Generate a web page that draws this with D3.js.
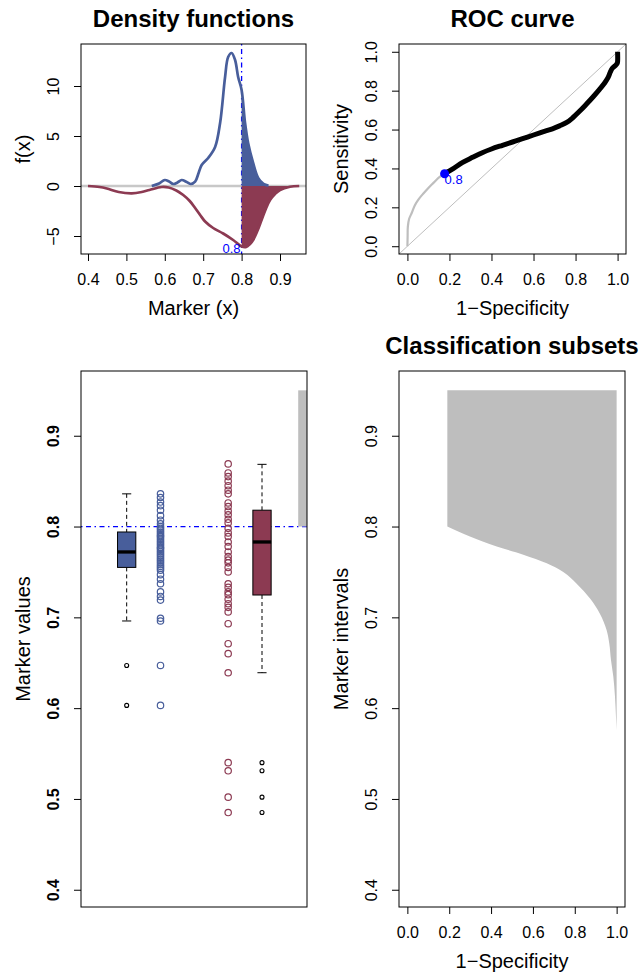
<!DOCTYPE html>
<html>
<head>
<meta charset="utf-8">
<script src="https://cdnjs.cloudflare.com/ajax/libs/d3/7.8.5/d3.min.js"></script>
<style>
  body { margin: 0; background: #fff; }
  svg { display: block; font-family: 'Liberation Sans', Arial, sans-serif; }
</style>
</head>
<body>
<svg width="640" height="976"></svg>
<script>
// ---- data ----
let cutoff = 0.8;

// density of the blue group (upper curve)
let densBlueX = [0.566, 0.585, 0.600, 0.611, 0.622, 0.633, 0.644, 0.657, 0.668, 0.679, 0.688, 0.696, 0.713, 0.731, 0.744, 0.757, 0.765, 0.774, 0.783, 0.791, 0.800, 0.809, 0.817, 0.830, 0.843, 0.857, 0.870];
let densBlueY = [0, 0.25, 0.6, 0.45, 0.2, 0.35, 0.6, 0.4, 0.2, 0.43, 1.3, 2.1, 2.8, 3.9, 6.3, 10.9, 12.9, 13.3, 12.6, 10.9, 9.6, 6.3, 4.3, 2.3, 0.8, 0.2, 0.03];
// density of the red group (drawn mirrored below zero)
let densRedX = [0.400, 0.430, 0.449, 0.480, 0.514, 0.540, 0.560, 0.592, 0.610, 0.630, 0.648, 0.665, 0.679, 0.692, 0.705, 0.726, 0.752, 0.778, 0.800, 0.812, 0.822, 0.830, 0.841, 0.852, 0.863, 0.874, 0.887, 0.900, 0.926, 0.950];
let densRedY = [0, -0.1, -0.25, -0.6, -0.73, -0.6, -0.4, -0.1, -0.15, -0.45, -0.9, -1.5, -2.2, -2.9, -3.55, -4.2, -4.75, -5.4, -6.05, -6.1, -5.8, -5.4, -4.5, -3.4, -2.3, -1.4, -0.8, -0.4, -0.08, 0];

// ROC curve
let rocFpr = [0, 0.001, 0.002, 0.008, 0.021, 0.035, 0.053, 0.075, 0.101, 0.125, 0.149, 0.177, 0.22, 0.261, 0.31, 0.356, 0.40, 0.452, 0.50, 0.548, 0.60, 0.644, 0.690, 0.724, 0.760, 0.788, 0.82, 0.851, 0.885, 0.915, 0.940, 0.955, 0.965, 0.975, 0.99, 0.998, 1.0, 1.0];
let rocTpr = [0, 0.05, 0.10, 0.14, 0.172, 0.21, 0.241, 0.27, 0.301, 0.327, 0.353, 0.373, 0.40, 0.43, 0.457, 0.481, 0.50, 0.519, 0.536, 0.553, 0.572, 0.588, 0.604, 0.619, 0.638, 0.662, 0.695, 0.730, 0.77, 0.808, 0.842, 0.868, 0.895, 0.915, 0.93, 0.94, 0.95, 1.0];
let rocCutIndex = 11; // point for the cutoff 0.8

// marker values
let blueValues = [0.836, 0.832, 0.827, 0.823, 0.818, 0.812, 0.807, 0.803, 0.800, 0.798, 0.796, 0.794, 0.792, 0.790, 0.789, 0.787, 0.785, 0.783, 0.781, 0.779, 0.777, 0.776, 0.774, 0.772, 0.770, 0.768, 0.766, 0.764, 0.762, 0.760, 0.758, 0.756, 0.754, 0.752, 0.747, 0.742, 0.737, 0.728, 0.723, 0.719, 0.699, 0.696, 0.647, 0.603];
let redValues = [0.869, 0.859, 0.855, 0.850, 0.845, 0.840, 0.836, 0.826, 0.822, 0.817, 0.813, 0.808, 0.804, 0.798, 0.793, 0.789, 0.783, 0.778, 0.772, 0.767, 0.763, 0.760, 0.755, 0.750, 0.737, 0.733, 0.728, 0.725, 0.720, 0.715, 0.711, 0.706, 0.693, 0.671, 0.660, 0.639, 0.540, 0.531, 0.502, 0.485];

// boxplot stats (blue, red)
let boxLow = [0.696, 0.639];
let boxQ1 = [0.755, 0.7246];
let boxMed = [0.772, 0.783];
let boxQ3 = [0.794, 0.818];
let boxHigh = [0.836, 0.8685];
let boxOut = [[0.647, 0.603], [0.540, 0.531, 0.502, 0.485]];
let boxAt = [1, 5];
let stripAt = [2, 4];

// classified subset (marker interval) for the cutoff
let subsetLow = 0.8;
let subsetHigh = 0.95;

// classification subsets: lower edge of the interval against 1-Specificity
let subsetMarker = [0.80, 0.789, 0.778, 0.769, 0.7595, 0.750, 0.737, 0.721, 0.704, 0.686, 0.671, 0.653, 0.635, 0.613, 0.590, 0.576];
let subsetFpr = [0.191, 0.299, 0.427, 0.554, 0.666, 0.745, 0.809, 0.872, 0.920, 0.952, 0.965, 0.973, 0.984, 0.992, 0.997, 1.0];

let blue = '#485e9b';
let red = '#8c3a52';
let gray = '#bebebe';
let dotdash = '1.5,3.5,5,3.5';

let svg = d3.select('svg');
svg.append('rect').attr('width', 640).attr('height', 976).attr('fill', '#fff');

// ---- helpers for R-like axes ----
let fmt1 = d3.format('.1f');

let axisBottom = (scale, ticks, y, fmt) => {
    let a = svg.append('g')
        .attr('transform', `translate(0, ${y})`)
        .call(d3.axisBottom(scale).tickValues(ticks).tickSize(7).tickSizeOuter(0).tickPadding(13).tickFormat(fmt));
    a.attr('font-size', 16).attr('font-family', null);
    a.select('.domain').remove();
    a.selectAll('.tick text').attr('fill', '#000');
};

let axisLeft = (scale, ticks, x, fmt, bold) => {
    let a = svg.append('g')
        .attr('transform', `translate(${x}, 0)`)
        .call(d3.axisLeft(scale).tickValues(ticks).tickSize(7).tickSizeOuter(0).tickFormat(fmt));
    a.attr('font-size', 16).attr('font-family', null);
    a.select('.domain').remove();
    a.selectAll('.tick text')
     .attr('transform', 'rotate(-90)')
     .attr('x', 0)
     .attr('y', -22)
     .attr('dy', null)
     .attr('text-anchor', 'middle')
     .attr('fill', '#000')
     .attr('font-weight', bold ? 'bold' : null);
};

let frame = (x0, y0, x1, y1, title, xlab, ylab) => {
    svg.append('rect')
       .attr('x', x0).attr('y', y0)
       .attr('width', x1 - x0).attr('height', y1 - y0)
       .attr('fill', 'none').attr('stroke', '#000').attr('stroke-width', 1);
    if (title) {
        svg.append('text')
           .attr('x', (x0 + x1) / 2).attr('y', y0 - 17)
           .attr('text-anchor', 'middle')
           .attr('font-size', 24).attr('font-weight', 'bold')
           .text(title);
    }
    if (xlab) {
        svg.append('text')
           .attr('x', (x0 + x1) / 2).attr('y', y1 + 61)
           .attr('text-anchor', 'middle')
           .attr('font-size', 20)
           .text(xlab);
    }
    if (ylab) {
        svg.append('text')
           .attr('transform', `translate(${x0 - 51}, ${(y0 + y1) / 2}) rotate(-90)`)
           .attr('text-anchor', 'middle')
           .attr('font-size', 20)
           .text(ylab);
    }
};

// ---- panel 1: density functions ----
let x1 = d3.scaleLinear().domain([0.3818, 0.9677]).range([81, 306]);
let y1 = d3.scaleLinear().domain([-6.8, 14.2]).range([254, 44]);

let blueDens = densBlueX.map((d, i) => [d, densBlueY[i]]);
let redDens = densRedX.map((d, i) => [d, densRedY[i]]);

let line1 = d3.line().x(d => x1(d[0])).y(d => y1(d[1])).curve(d3.curveCatmullRom);
let area1 = d3.area().x(d => x1(d[0])).y0(y1(0)).y1(d => y1(d[1])).curve(d3.curveCatmullRom);

svg.append('line')
   .attr('x1', x1(cutoff)).attr('x2', x1(cutoff))
   .attr('y1', y1.range()[1]).attr('y2', y1.range()[0])
   .attr('stroke', '#0000ff').attr('stroke-width', 1.3).attr('stroke-dasharray', dotdash);

svg.append('line')
   .attr('x1', x1.range()[0]).attr('x2', x1.range()[1])
   .attr('y1', y1(0)).attr('y2', y1(0))
   .attr('stroke', '#c8c8c8').attr('stroke-width', 2.5);

svg.append('path').datum(blueDens.filter(d => d[0] >= cutoff))
   .attr('d', area1).attr('fill', blue);
svg.append('path').datum(redDens.filter(d => d[0] >= cutoff))
   .attr('d', area1).attr('fill', red);

svg.append('path').datum(redDens)
   .attr('d', line1).attr('fill', 'none').attr('stroke', red).attr('stroke-width', 2.7);
svg.append('path').datum(blueDens)
   .attr('d', line1).attr('fill', 'none').attr('stroke', blue).attr('stroke-width', 2.7);

svg.append('text')
   .attr('x', x1(cutoff) - 1).attr('y', y1(d3.min(densRedY)) + 6)
   .attr('text-anchor', 'end').attr('font-size', 13).attr('fill', '#0000ff')
   .text(fmt1(cutoff));

axisBottom(x1, [0.4, 0.5, 0.6, 0.7, 0.8, 0.9], 254, fmt1);
axisLeft(y1, [-5, 0, 5, 10], 81, d3.format('d'), false);
frame(81, 44, 306, 254, 'Density functions', 'Marker (x)', 'f(x)');

// ---- panel 2: ROC curve ----
let x2 = d3.scaleLinear().domain([-0.04, 1.04]).range([399, 626]);
let y2 = d3.scaleLinear().domain([-0.04, 1.04]).range([254, 44]);

svg.append('line')
   .attr('x1', x2(-0.04)).attr('y1', y2(-0.04))
   .attr('x2', x2(1.04)).attr('y2', y2(1.04))
   .attr('stroke', gray).attr('stroke-width', 1);

let rocPts = rocFpr.map((d, i) => [d, rocTpr[i]]);
let line2 = d3.line().x(d => x2(d[0])).y(d => y2(d[1])).curve(d3.curveCatmullRom);

svg.append('path').datum(rocPts.slice(0, rocCutIndex + 1))
   .attr('d', line2).attr('fill', 'none')
   .attr('stroke', gray).attr('stroke-width', 2.2);
svg.append('path').datum(rocPts.slice(rocCutIndex))
   .attr('d', line2)
   .attr('fill', 'none').attr('stroke', '#000').attr('stroke-width', 5);

svg.append('circle')
   .attr('cx', x2(rocFpr[rocCutIndex])).attr('cy', y2(rocTpr[rocCutIndex]))
   .attr('r', 4.5).attr('fill', '#0000ff');
svg.append('text')
   .attr('x', x2(rocFpr[rocCutIndex])).attr('y', y2(rocTpr[rocCutIndex]) + 10)
   .attr('font-size', 13).attr('fill', '#0000ff')
   .text(fmt1(cutoff));

let ticks01 = [0, 0.2, 0.4, 0.6, 0.8, 1];
axisBottom(x2, ticks01, 254, fmt1);
axisLeft(y2, ticks01, 399, fmt1, false);
frame(399, 44, 626, 254, 'ROC curve', '1\u2212Specificity', 'Sensitivity');

// ---- panel 3: marker values ----
let x3 = d3.scaleLinear().domain([-0.35, 6.33]).range([81, 307]);
let y3 = d3.scaleLinear().domain([0.381, 0.9713]).range([907, 371]);
let halfBox = 0.27;

svg.append('line')
   .attr('x1', x3.range()[0]).attr('x2', x3.range()[1])
   .attr('y1', y3(cutoff)).attr('y2', y3(cutoff))
   .attr('stroke', '#0000ff').attr('stroke-width', 1.3).attr('stroke-dasharray', dotdash);

svg.append('rect')
   .attr('x', x3(6.07)).attr('width', x3(6.33) - x3(6.07))
   .attr('y', y3(subsetHigh)).attr('height', y3(subsetLow) - y3(subsetHigh))
   .attr('fill', gray);

[blueValues, redValues].forEach((vals, g) => {
    svg.append('g').selectAll('circle')
       .data(vals).enter().append('circle')
       .attr('cx', x3(stripAt[g]))
       .attr('cy', d => y3(d))
       .attr('r', 3.2)
       .attr('fill', 'none')
       .attr('stroke', g === 0 ? blue : red)
       .attr('stroke-width', 1.2);
});

boxAt.forEach((pos, g) => {
    let bx = svg.append('g');
    let cx = x3(pos);
    let w = x3(pos + halfBox) - cx;
    // whiskers
    bx.append('line').attr('x1', cx).attr('x2', cx).attr('y1', y3(boxHigh[g])).attr('y2', y3(boxQ3[g]))
      .attr('stroke', '#000').attr('stroke-dasharray', '4,3');
    bx.append('line').attr('x1', cx).attr('x2', cx).attr('y1', y3(boxQ1[g])).attr('y2', y3(boxLow[g]))
      .attr('stroke', '#000').attr('stroke-dasharray', '4,3');
    bx.append('line').attr('x1', cx - w / 2).attr('x2', cx + w / 2).attr('y1', y3(boxHigh[g])).attr('y2', y3(boxHigh[g]))
      .attr('stroke', '#000');
    bx.append('line').attr('x1', cx - w / 2).attr('x2', cx + w / 2).attr('y1', y3(boxLow[g])).attr('y2', y3(boxLow[g]))
      .attr('stroke', '#000');
    // box
    bx.append('rect').attr('x', cx - w).attr('width', 2 * w)
      .attr('y', y3(boxQ3[g])).attr('height', y3(boxQ1[g]) - y3(boxQ3[g]))
      .attr('fill', g === 0 ? blue : red).attr('stroke', '#000').attr('stroke-width', 1);
    bx.append('line').attr('x1', cx - w).attr('x2', cx + w).attr('y1', y3(boxMed[g])).attr('y2', y3(boxMed[g]))
      .attr('stroke', '#000').attr('stroke-width', 3.3);
    bx.selectAll('circle.out').data(boxOut[g]).enter().append('circle')
      .attr('cx', cx).attr('cy', d => y3(d)).attr('r', 2)
      .attr('fill', 'none').attr('stroke', '#000').attr('stroke-width', 1.1);
});

let ticksM = [0.4, 0.5, 0.6, 0.7, 0.8, 0.9];
axisLeft(y3, ticksM, 81, fmt1, true);
frame(81, 371, 307, 907, null, null, 'Marker values');

// ---- panel 4: classification subsets ----
let x4 = d3.scaleLinear().domain([-0.04, 1.04]).range([399, 625]);
let y4 = d3.scaleLinear().domain([0.381, 0.9713]).range([907, 371]);

let edge = subsetMarker.map((d, i) => [subsetFpr[i], d]);
let edgeLine = d3.line().x(d => x4(d[0])).y(d => y4(d[1])).curve(d3.curveMonotoneY);
let polyPath = `M${x4(1)},${y4(subsetHigh)}L${x4(subsetFpr[0])},${y4(subsetHigh)}`
             + edgeLine(edge).replace(/^M/, 'L') + 'Z';
svg.append('path')
   .attr('d', polyPath)
   .attr('fill', gray);

axisBottom(x4, ticks01, 907, fmt1);
axisLeft(y4, ticksM, 399, fmt1, false);
frame(399, 371, 625, 907, 'Classification subsets', '1\u2212Specificity', 'Marker intervals');
</script>
</body>
</html>
